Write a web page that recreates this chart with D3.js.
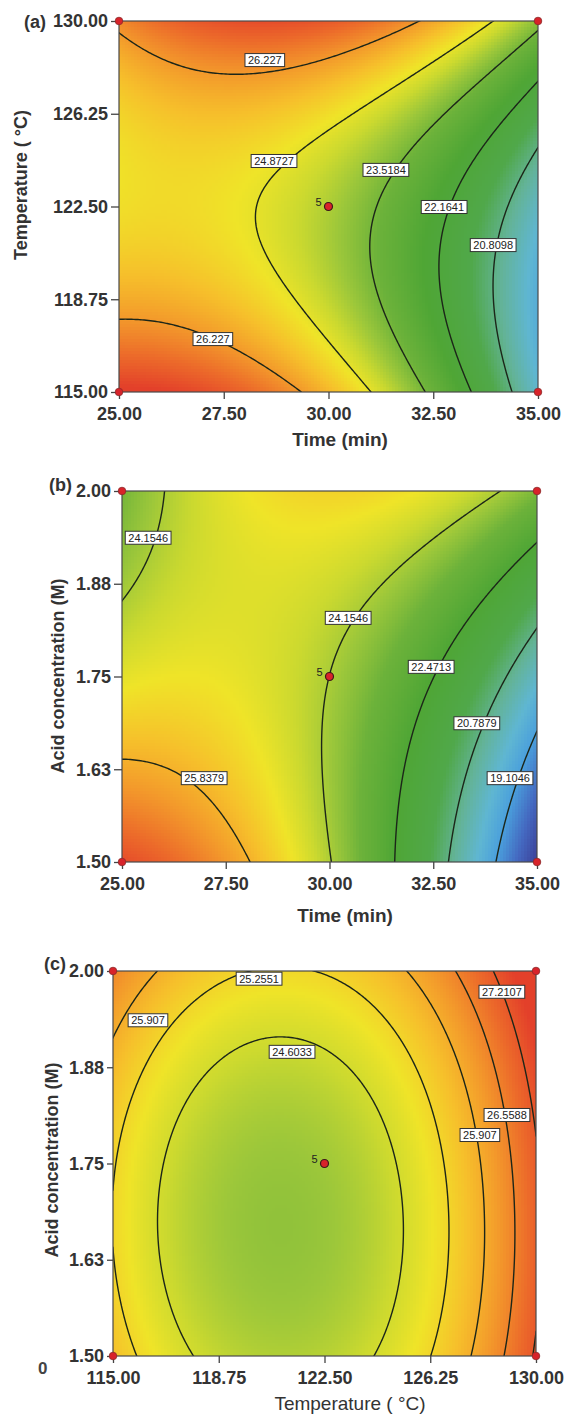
<!DOCTYPE html>
<html>
<head>
<meta charset="utf-8">
<script src="https://cdn.jsdelivr.net/npm/d3@7"></script>
<style>
  body { margin: 0; background: #fff; }
  svg text { font-family: "Liberation Sans Narrow", "Liberation Sans", Arial, sans-serif; }
</style>
</head>
<body>
<svg id="chart" width="566" height="1416"></svg>
<script>
// factor ticks
const timeTicks = [25, 27.5, 30, 32.5, 35];
const tempTicks = [115, 118.75, 122.5, 126.25, 130];
const acidTicks = [1.5, 1.625, 1.75, 1.875, 2.0];
const timeLabels = ['25.00', '27.50', '30.00', '32.50', '35.00'];
const tempLabels = ['115.00', '118.75', '122.50', '126.25', '130.00'];
const acidLabels = ['1.50', '1.63', '1.75', '1.88', '2.00'];

// response at low / centre / high of each factor
// rows: y factor low -> high, columns: x factor low -> high
const yieldA = [[27.73, 25.75, 19.87], [25.10, 24.19, 20.00], [26.43, 27.19, 23.80]];
const yieldB = [[27.40, 24.20, 17.50], [24.85, 24.15, 19.95], [23.50, 25.30, 23.60]];
const yieldC = [[25.62, 24.29, 27.29], [25.30, 24.04, 27.14], [26.49, 25.29, 28.10]];

// contour levels
const levelsA = [20.8098, 22.1641, 23.5184, 24.8727, 26.227];
const levelsB = [19.1046, 20.7879, 22.4713, 24.1546, 25.8379];
const levelsC = [24.6033, 25.2551, 25.907, 26.5588, 27.2107];

// contour labels: text, x value, y value
const labelsA = [['26.227', 28.48, 128.42], ['24.8727', 28.70, 124.34], ['23.5184', 31.37, 123.98],
                 ['22.1641', 32.76, 122.48], ['20.8098', 33.93, 120.94], ['26.227', 27.24, 117.14]];
const labelsB = [['24.1546', 25.63, 1.937], ['24.1546', 30.45, 1.829], ['22.4713', 32.45, 1.763],
                 ['20.7879', 33.55, 1.687], ['25.8379', 26.98, 1.613], ['19.1046', 34.35, 1.613]];
const labelsC = [['25.2551', 120.18, 1.99], ['25.907', 116.24, 1.936], ['24.6033', 121.35, 1.895],
                 ['27.2107', 128.79, 1.973], ['26.5588', 128.97, 1.813], ['25.907', 128.01, 1.787]];

// colour ramp (blue -> green -> yellow -> red)
const colorDomain = [17.4, 18.3, 19.1, 19.8, 20.6, 21.4, 22.5, 23.4, 24.0, 24.5, 25.0, 25.6, 26.2, 26.9, 27.6];
const colorRange = ['#3a3a92', '#4468c0', '#4a9fdc', '#5fb6d2', '#63b397', '#50a84a', '#4fa635', '#6cb23a',
                    '#9cc73a', '#cbd92f', '#efe428', '#f6c02b', '#f39a2b', '#ec6a2a', '#e3402a'];
const color = d3.scaleLinear().domain(colorDomain).range(colorRange).interpolate(d3.interpolateRgb).clamp(true);

const svg = d3.select('#chart');

// quadratic surface through the 3x3 values (u, v in -1..1)
function surface(grid, u, v) {
  const L = s => [s * (s - 1) / 2, 1 - s * s, s * (s + 1) / 2];
  const lu = L(u), lv = L(v);
  let z = 0;
  for (let j = 0; j < 3; j++) for (let i = 0; i < 3; i++) z += grid[j][i] * lv[j] * lu[i];
  return z;
}

function drawPanel(p) {
  const x = d3.scaleLinear().domain(p.xDomain).range([p.left, p.right]);
  const y = d3.scaleLinear().domain(p.yDomain).range([p.bottom, p.top]);
  const w = p.right - p.left, h = p.bottom - p.top;
  const norm = (s, v) => (v - (s.domain()[0] + s.domain()[1]) / 2) / ((s.domain()[1] - s.domain()[0]) / 2);
  const g = svg.append('g');

  // colour fill
  const cell = 3;
  const canvas = document.createElement('canvas');
  canvas.width = w; canvas.height = h;
  const ctx = canvas.getContext('2d');
  for (let py = 0; py < h; py += cell) {
    for (let px = 0; px < w; px += cell) {
      const xv = x.invert(p.left + px + cell / 2), yv = y.invert(p.top + py + cell / 2);
      ctx.fillStyle = color(surface(p.grid, norm(x, xv), norm(y, yv)));
      ctx.fillRect(px, py, cell, cell);
    }
  }
  g.append('image')
    .attr('x', p.left).attr('y', p.top)
    .attr('width', w).attr('height', h)
    .attr('preserveAspectRatio', 'none')
    .attr('href', canvas.toDataURL());

  // contour lines
  const n = 201;
  const values = new Array(n * n);
  for (let j = 0; j < n; j++) {
    for (let i = 0; i < n; i++) {
      const xv = x.invert(p.left + i / (n - 1) * w);
      const yv = y.invert(p.top + j / (n - 1) * h);
      values[i + j * n] = surface(p.grid, norm(x, xv), norm(y, yv));
    }
  }
  const contours = d3.contours().size([n, n]).thresholds(p.levels)(values);
  const proj = d3.geoTransform({
    point(cx, cy) {
      this.stream.point(p.left + (cx - 0.5) / (n - 1) * w, p.top + (cy - 0.5) / (n - 1) * h);
    }
  });
  const clipId = 'clip' + p.id;
  svg.append('clipPath').attr('id', clipId)
    .append('rect').attr('x', p.left).attr('y', p.top).attr('width', w).attr('height', h);
  g.append('g').attr('clip-path', `url(#${clipId})`)
    .selectAll('path').data(contours).join('path')
    .attr('d', d3.geoPath(proj))
    .attr('fill', 'none')
    .attr('stroke', '#1c2619')
    .attr('stroke-width', 1.4);

  // border
  g.append('rect')
    .attr('x', p.left).attr('y', p.top).attr('width', w).attr('height', h)
    .attr('fill', 'none').attr('stroke', '#4a4a4a').attr('stroke-width', 1.2);

  // axes
  const xAxis = g.append('g').attr('transform', `translate(0,${p.bottom})`)
    .call(d3.axisBottom(x).tickValues(p.xTicks).tickFormat((d, i) => p.xLabels[i]).tickSize(7).tickPadding(8).tickSizeOuter(0));
  const yAxis = g.append('g').attr('transform', `translate(${p.left},0)`)
    .call(d3.axisLeft(y).tickValues(p.yTicks).tickFormat((d, i) => p.yLabels[i]).tickSize(p.yTickSize).tickPadding(3).tickSizeOuter(0));
  [xAxis, yAxis].forEach(a => {
    a.select('.domain').remove();
    a.selectAll('line').attr('stroke', '#444').attr('stroke-width', 1.3);
    a.selectAll('text').attr('fill', '#333').attr('font-size', 18).attr('font-weight', 'bold');
  });

  // contour labels, box sized to the text
  const lab = g.append('g').selectAll('g').data(p.labels).join('g')
    .attr('transform', d => `translate(${x(d[1])},${y(d[2])})`);
  const box = lab.append('rect')
    .attr('fill', '#fff').attr('stroke', '#333').attr('stroke-width', 1);
  lab.append('text')
    .attr('text-anchor', 'middle').attr('dy', '0.35em')
    .attr('font-size', 11).attr('fill', '#222')
    .text(d => d[0]);
  lab.each(function() {
    const bb = d3.select(this).select('text').node().getBBox();
    d3.select(this).select('rect')
      .attr('x', -bb.width / 2 - 3).attr('y', -6.5)
      .attr('width', bb.width + 6).attr('height', 13);
  });

  // design points
  const corners = [[p.xDomain[0], p.yDomain[0]], [p.xDomain[1], p.yDomain[0]],
                   [p.xDomain[0], p.yDomain[1]], [p.xDomain[1], p.yDomain[1]]];
  g.selectAll('.corner').data(corners).join('circle')
    .attr('cx', d => x(d[0])).attr('cy', d => y(d[1])).attr('r', 3.8)
    .attr('fill', '#d8232a').attr('stroke', '#8a2a2a').attr('stroke-width', 0.8);
  const cx = (p.xDomain[0] + p.xDomain[1]) / 2, cy = (p.yDomain[0] + p.yDomain[1]) / 2;
  g.append('circle').attr('cx', x(cx)).attr('cy', y(cy)).attr('r', 4)
    .attr('fill', '#d8232a').attr('stroke', '#3a1a1a').attr('stroke-width', 1.2);
  g.append('text').attr('x', x(cx) - 7).attr('y', y(cy) - 1)
    .attr('text-anchor', 'end').attr('font-size', 11).attr('fill', '#222').text('5');

  // titles
  g.append('text').attr('x', p.tag[1]).attr('y', p.tag[2])
    .attr('font-size', 18).attr('font-weight', 'bold').attr('fill', '#333').text(p.tag[0]);
  g.append('text')
    .attr('transform', `translate(${p.yTitlePos[0]},${p.yTitlePos[1]}) rotate(-90)`)
    .attr('text-anchor', 'middle').attr('font-size', 18).attr('font-weight', 'bold').attr('fill', '#333')
    .text(p.yTitle);
  g.append('text').attr('x', p.xTitlePos[0]).attr('y', p.xTitlePos[1])
    .attr('text-anchor', 'middle').attr('font-size', 19).attr('font-weight', p.xTitleWeight).attr('fill', '#333')
    .text(p.xTitle);
}

drawPanel({
  id: 'a', left: 119, right: 538, top: 21, bottom: 392,
  xDomain: [25, 35], yDomain: [115, 130], grid: yieldA, levels: levelsA, labels: labelsA,
  xTicks: timeTicks, xLabels: timeLabels, yTicks: tempTicks, yLabels: tempLabels, yTickSize: 8,
  tag: ['(a)', 24, 28], yTitle: 'Temperature ( °C)', yTitlePos: [27, 185],
  xTitle: 'Time (min)', xTitlePos: [340, 446], xTitleWeight: 'bold'
});
drawPanel({
  id: 'b', left: 122, right: 537, top: 491, bottom: 862,
  xDomain: [25, 35], yDomain: [1.5, 2.0], grid: yieldB, levels: levelsB, labels: labelsB,
  xTicks: timeTicks, xLabels: timeLabels, yTicks: acidTicks, yLabels: acidLabels, yTickSize: 8,
  tag: ['(b)', 49, 491], yTitle: 'Acid concentration (M)', yTitlePos: [64, 676],
  xTitle: 'Time (min)', xTitlePos: [345, 922], xTitleWeight: 'bold'
});
drawPanel({
  id: 'c', left: 113, right: 536, top: 971, bottom: 1356,
  xDomain: [115, 130], yDomain: [1.5, 2.0], grid: yieldC, levels: levelsC, labels: labelsC,
  xTicks: tempTicks, xLabels: tempLabels, yTicks: acidTicks, yLabels: acidLabels, yTickSize: 6,
  tag: ['(c)', 44, 970], yTitle: 'Acid concentration (M)', yTitlePos: [58, 1160],
  xTitle: 'Temperature ( °C)', xTitlePos: [350, 1410], xTitleWeight: 'normal'
});

svg.append('text').attr('x', 38).attr('y', 1374)
  .attr('font-size', 17).attr('font-weight', 'bold').attr('fill', '#444').text('0');
</script>
</body>
</html>
